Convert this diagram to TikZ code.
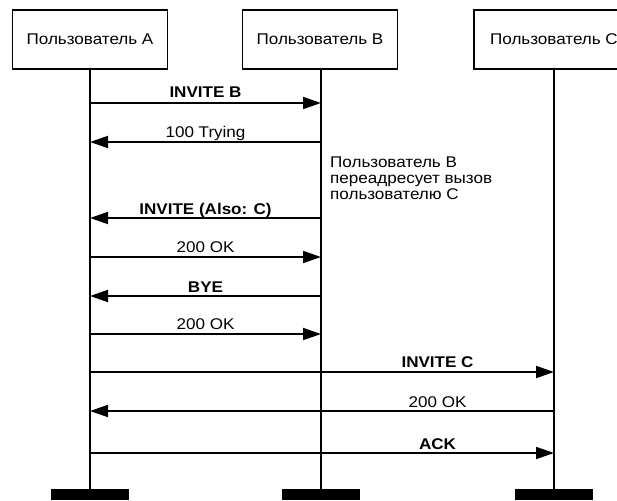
\documentclass[tikz,border=0pt]{standalone}
\usepackage{fontspec}
\setmainfont[FakeStretch=1.1]{Liberation Sans}
\usetikzlibrary{arrows.meta}
\begin{document}
\begin{tikzpicture}[x=1pt,y=-1pt,
  party/.style={draw, line width=1.8pt, minimum width=155pt, minimum height=59pt,
    inner sep=0pt, font=\fontsize{15.5}{17}\selectfont},
  life/.style={line width=1.8pt},
  endbar/.style={fill=black, minimum width=78pt, minimum height=11pt, inner sep=0pt},
  msg/.style={line width=1.8pt, -{Triangle[length=18pt,width=12pt]}},
  lbl/.style={anchor=base, inner sep=0pt, font=\fontsize{15.5}{17}\selectfont},
  blbl/.style={lbl, font=\fontsize{15.5}{17}\selectfont\bfseries},
  note/.style={anchor=base west, inner sep=0pt, align=left,
    font=\fontsize{15.5}{16}\selectfont}]
\useasboundingbox (0,0) rectangle (617,500);

% participants
\node[party] (A) at (90,39.5)  {Пользователь А};
\node[party] (B) at (320,39.5) {Пользователь В};
\node[party, minimum width=160pt] (C) at (554,39.5) {Пользователь С};

% end markers
\node[endbar] (eA) at (90,494.5)  {};
\node[endbar] (eB) at (321,494.5) {};
\node[endbar] (eC) at (554,494.5) {};

% lifelines
\draw[life] (A.south) -- (eA.north);
\draw[life] (B.south -| eB) -- (eB.north);
\draw[life] (C.south) -- (eC.north);

% messages A <-> B
\draw[msg] (eA |- 0,103) -- (eB |- 0,103);
\node[blbl] (m1) at (205.5,97) {INVITE B};
\draw[msg] (eB |- 0,142) -- (eA |- 0,142);
\node[lbl] (m2) at (205.5,137.5) {100 Trying};

% note beside lifeline B (anchored at the last line's baseline)
\node[note] (n) at (330,199) {Пользователь В\\переадресует вызов\\пользователю С};

\draw[msg] (eB |- 0,218) -- (eA |- 0,218);
\node[blbl] (m3) at (205.5,214) {INVITE (Also: C)};
\draw[msg] (eA |- 0,257) -- (eB |- 0,257);
\node[lbl] (m4) at (205.5,252) {200 OK};
\draw[msg] (eB |- 0,296) -- (eA |- 0,296);
\node[blbl] (m5) at (205.5,292) {BYE};
\draw[msg] (eA |- 0,334) -- (eB |- 0,334);
\node[lbl] (m6) at (205.5,329) {200 OK};

% messages A <-> C
\draw[msg] (eA |- 0,372) -- (eC |- 0,372);
\node[blbl] (m7) at (437.5,367) {INVITE C};
\draw[msg] (eC |- 0,411) -- (eA |- 0,411);
\node[lbl] (m8) at (437.5,407) {200 OK};
\draw[msg] (eA |- 0,453) -- (eC |- 0,453);
\node[blbl] (m9) at (437.5,449) {ACK};
\end{tikzpicture}
\end{document}
